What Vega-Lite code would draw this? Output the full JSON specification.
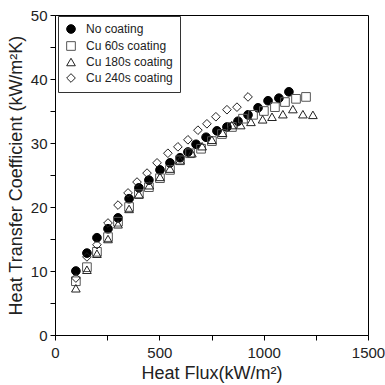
{
  "$schema": "https://vega.github.io/schema/vega-lite/v6.json",
  "width": 313,
  "height": 320,
  "autosize": "none",
  "padding": {"left": 55, "top": 15, "right": 17, "bottom": 50},
  "background": "white",
  "config": {
    "view": {"stroke": "black", "strokeWidth": 1},
    "font": "Liberation Sans",
    "axis": {"grid": false, "domainColor": "black", "tickColor": "black", "labelColor": "#222", "titleColor": "#222", "labelFontSize": 15, "titleFontSize": 18, "titleFontWeight": "normal", "tickSize": 5}
  },
  "data": {"values": [
    {"s": "No coating", "q": 100, "h": 10.0},
    {"s": "No coating", "q": 153, "h": 12.8},
    {"s": "No coating", "q": 201, "h": 15.2},
    {"s": "No coating", "q": 254, "h": 16.6},
    {"s": "No coating", "q": 302, "h": 18.3},
    {"s": "No coating", "q": 355, "h": 21.3},
    {"s": "No coating", "q": 402, "h": 23.0},
    {"s": "No coating", "q": 450, "h": 24.2},
    {"s": "No coating", "q": 503, "h": 25.8},
    {"s": "No coating", "q": 551, "h": 26.9},
    {"s": "No coating", "q": 599, "h": 27.7},
    {"s": "No coating", "q": 637, "h": 28.6},
    {"s": "No coating", "q": 676, "h": 29.8},
    {"s": "No coating", "q": 724, "h": 30.9},
    {"s": "No coating", "q": 776, "h": 31.9},
    {"s": "No coating", "q": 824, "h": 32.5},
    {"s": "No coating", "q": 877, "h": 33.4},
    {"s": "No coating", "q": 925, "h": 34.4},
    {"s": "No coating", "q": 973, "h": 35.5},
    {"s": "No coating", "q": 1021, "h": 36.6},
    {"s": "No coating", "q": 1073, "h": 37.0},
    {"s": "No coating", "q": 1121, "h": 38.0},
    {"s": "Cu 60s coating", "q": 100, "h": 8.4},
    {"s": "Cu 60s coating", "q": 153, "h": 10.6},
    {"s": "Cu 60s coating", "q": 201, "h": 13.0},
    {"s": "Cu 60s coating", "q": 254, "h": 15.3},
    {"s": "Cu 60s coating", "q": 302, "h": 17.7},
    {"s": "Cu 60s coating", "q": 355, "h": 20.0},
    {"s": "Cu 60s coating", "q": 402, "h": 22.0},
    {"s": "Cu 60s coating", "q": 450, "h": 23.1},
    {"s": "Cu 60s coating", "q": 503, "h": 24.5},
    {"s": "Cu 60s coating", "q": 551, "h": 25.8},
    {"s": "Cu 60s coating", "q": 599, "h": 27.3},
    {"s": "Cu 60s coating", "q": 647, "h": 28.4},
    {"s": "Cu 60s coating", "q": 700, "h": 29.1},
    {"s": "Cu 60s coating", "q": 752, "h": 30.3},
    {"s": "Cu 60s coating", "q": 800, "h": 31.4},
    {"s": "Cu 60s coating", "q": 848, "h": 32.5},
    {"s": "Cu 60s coating", "q": 901, "h": 33.8},
    {"s": "Cu 60s coating", "q": 949, "h": 34.4},
    {"s": "Cu 60s coating", "q": 1001, "h": 35.0},
    {"s": "Cu 60s coating", "q": 1054, "h": 35.6},
    {"s": "Cu 60s coating", "q": 1102, "h": 36.4},
    {"s": "Cu 60s coating", "q": 1155, "h": 36.9},
    {"s": "Cu 60s coating", "q": 1203, "h": 37.2},
    {"s": "Cu 180s coating", "q": 100, "h": 7.3},
    {"s": "Cu 180s coating", "q": 153, "h": 10.2},
    {"s": "Cu 180s coating", "q": 201, "h": 12.7},
    {"s": "Cu 180s coating", "q": 254, "h": 15.0},
    {"s": "Cu 180s coating", "q": 302, "h": 17.3},
    {"s": "Cu 180s coating", "q": 355, "h": 19.7},
    {"s": "Cu 180s coating", "q": 402, "h": 22.0},
    {"s": "Cu 180s coating", "q": 452, "h": 23.4},
    {"s": "Cu 180s coating", "q": 503, "h": 24.7},
    {"s": "Cu 180s coating", "q": 551, "h": 26.0},
    {"s": "Cu 180s coating", "q": 599, "h": 27.3},
    {"s": "Cu 180s coating", "q": 656, "h": 28.4},
    {"s": "Cu 180s coating", "q": 705, "h": 29.5},
    {"s": "Cu 180s coating", "q": 752, "h": 30.5},
    {"s": "Cu 180s coating", "q": 803, "h": 31.6},
    {"s": "Cu 180s coating", "q": 847, "h": 32.8},
    {"s": "Cu 180s coating", "q": 890, "h": 32.8},
    {"s": "Cu 180s coating", "q": 939, "h": 33.3},
    {"s": "Cu 180s coating", "q": 995, "h": 33.7},
    {"s": "Cu 180s coating", "q": 1040, "h": 34.1},
    {"s": "Cu 180s coating", "q": 1092, "h": 34.5},
    {"s": "Cu 180s coating", "q": 1140, "h": 35.3},
    {"s": "Cu 180s coating", "q": 1188, "h": 34.5},
    {"s": "Cu 180s coating", "q": 1236, "h": 34.4},
    {"s": "Cu 240s coating", "q": 100, "h": 8.9},
    {"s": "Cu 240s coating", "q": 153, "h": 12.2},
    {"s": "Cu 240s coating", "q": 201, "h": 14.1},
    {"s": "Cu 240s coating", "q": 254, "h": 17.5},
    {"s": "Cu 240s coating", "q": 302, "h": 20.3},
    {"s": "Cu 240s coating", "q": 350, "h": 22.2},
    {"s": "Cu 240s coating", "q": 393, "h": 23.9},
    {"s": "Cu 240s coating", "q": 441, "h": 25.3},
    {"s": "Cu 240s coating", "q": 489, "h": 26.9},
    {"s": "Cu 240s coating", "q": 541, "h": 28.4},
    {"s": "Cu 240s coating", "q": 589, "h": 29.4},
    {"s": "Cu 240s coating", "q": 637, "h": 30.5},
    {"s": "Cu 240s coating", "q": 685, "h": 32.0},
    {"s": "Cu 240s coating", "q": 728, "h": 33.0},
    {"s": "Cu 240s coating", "q": 771, "h": 34.1},
    {"s": "Cu 240s coating", "q": 824, "h": 35.2},
    {"s": "Cu 240s coating", "q": 872, "h": 35.6},
    {"s": "Cu 240s coating", "q": 925, "h": 37.2}
  ]},
  "mark": {"type": "point", "size": 75, "strokeWidth": 1, "opacity": 1},
  "encoding": {
    "x": {"field": "q", "type": "quantitative", "title": "Heat Flux(kW/m²)",
      "scale": {"domain": [0, 1500], "nice": false},
      "axis": {"values": [0, 250, 500, 750, 1000, 1250, 1500], "format": "d", "labelExpr": "datum.value % 500 == 0 ? datum.label : ''", "labelFlush": false, "labelPadding": 5, "titlePadding": 4}},
    "y": {"field": "h", "type": "quantitative", "title": "Heat Transfer Coefficient (kW/m²K)",
      "scale": {"domain": [0, 50], "nice": false},
      "axis": {"values": [0, 5, 10, 15, 20, 25, 30, 35, 40, 45, 50], "format": "d", "labelExpr": "datum.value % 10 == 0 ? datum.label : ''", "labelFlush": false, "labelPadding": 3, "titlePadding": 5}},
    "shape": {"field": "s", "type": "nominal",
      "scale": {"domain": ["No coating", "Cu 60s coating", "Cu 180s coating", "Cu 240s coating"], "range": ["circle", "square", "triangle-up", "diamond"]},
      "legend": {"title": null, "orient": "none", "legendX": 3, "legendY": 1, "strokeColor": "#333", "padding": 7, "labelFontSize": 12, "labelColor": "#222", "rowPadding": 3, "symbolSize": 75, "symbolStrokeWidth": 1, "labelOffset": 9}},
    "fill": {"field": "s", "type": "nominal",
      "scale": {"domain": ["No coating", "Cu 60s coating", "Cu 180s coating", "Cu 240s coating"], "range": ["black", "transparent", "transparent", "transparent"]},
      "legend": null},
    "stroke": {"field": "s", "type": "nominal",
      "scale": {"domain": ["No coating", "Cu 60s coating", "Cu 180s coating", "Cu 240s coating"], "range": ["black", "#555", "#222", "#222"]},
      "legend": null}
  }
}
